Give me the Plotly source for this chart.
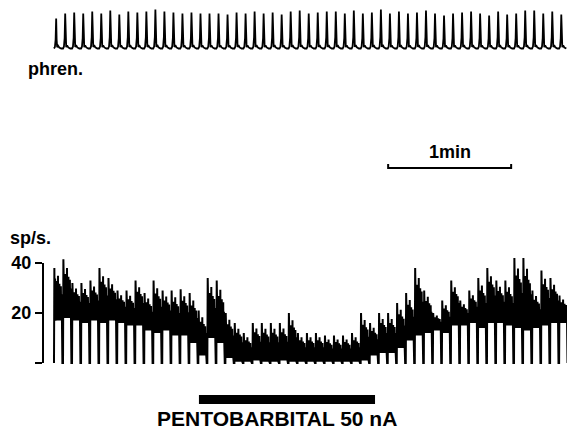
import plotly.graph_objects as go

# ---------------- data ----------------
cycle_period_s = 4.4          # breathing period (s)
scale_bar_start_s = 163.0     # 1-min calibration bar
scale_bar_len_s = 60.0
drug_on_s = 70.7              # pentobarbital ejection
drug_off_s = 156.6

# phrenic burst amplitude for each breath (arbitrary units)
phren_amp = [30, 35, 36, 35, 37, 35, 38, 34, 37, 36,
             37, 39, 37, 36, 35, 36, 35, 35, 35, 34,
             36, 35, 37, 35, 36, 34, 37, 38, 35, 36,
             37, 37, 35, 38, 35, 36, 39, 35, 37, 35,
             36, 38, 35, 33, 35, 36, 37, 35, 33, 37,
             34, 35, 38, 38, 35, 37, 34]

# unit firing rate per breath (sp/s): peak and plateau floor
rate_peak = [38, 41.5, 32, 32, 33, 38, 34, 29, 29, 33,
             28, 33, 29, 29, 29.5, 28, 21, 34, 33, 20,
             16, 12, 16, 16, 16, 16, 20, 12, 12, 12,
             11, 11, 11, 12, 20, 16, 20, 20, 24, 28,
             38, 29, 20, 25, 33, 25, 29, 34, 38, 33,
             33, 42, 42, 29, 37, 34, 27]
rate_floor = [17, 18, 17, 16, 17, 16, 17, 16, 15, 15,
              13, 12, 13, 11, 11, 8, 3, 10, 8, 2,
              0.5, 0.5, 1, 0.5, 0.5, 1, 0.5, 0.5, 0.5, 0.5,
              0.5, 0.5, 0.5, 0.5, 1, 3, 4, 4, 6, 9,
              11, 12, 13, 12, 15, 15, 16, 14, 16, 16,
              15, 14, 13, 14, 15, 16, 16]

rate_ticks = [0, 20, 40]
rate_ticktext = ["", "20", "40"]

# waveform templates within one breath (phase, relative value)
phren_shape = [(0.00, 0.00), (0.10, 0.05), (0.18, 0.30), (0.24, 1.00),
               (0.29, 0.30), (0.35, 0.04), (0.45, 0.09), (0.58, 0.03),
               (0.80, 0.00)]
# None = drop to zero; otherwise fraction between floor and peak
rate_shape = [(0.00, None), (0.04, 1.00), (0.08, 0.05), (0.12, 0.80),
              (0.16, 0.00), (0.20, 0.70), (0.24, 0.05), (0.28, 0.75),
              (0.32, 0.00), (0.36, 0.60), (0.40, 0.10), (0.44, 0.85),
              (0.48, 0.00), (0.52, 0.65), (0.56, 0.05), (0.60, 0.70),
              (0.64, 0.00), (0.68, 0.60), (0.72, 0.05), (0.76, 0.65),
              (0.80, 0.00), (0.84, 0.50), (0.88, 0.00), (0.93, None)]

# ---------------- build traces ----------------
px, py = [], []
for i, a in enumerate(phren_amp):
    t0 = i * cycle_period_s
    for ph, f in phren_shape:
        px.append(t0 + ph * cycle_period_s)
        py.append(a * f)

rx, ry = [], []
for i, (pk, fl) in enumerate(zip(rate_peak, rate_floor)):
    t0 = i * cycle_period_s
    for ph, f in rate_shape:
        rx.append(t0 + ph * cycle_period_s)
        ry.append(0.0 if f is None else fl + f * (pk - fl))

fig = go.Figure()
fig.add_trace(go.Scatter(x=px, y=py, mode="lines", yaxis="y3",
                         line=dict(color="black", width=1.8), hoverinfo="skip"))
fig.add_trace(go.Scatter(x=rx, y=ry, mode="lines", yaxis="y2",
                         line=dict(color="black", width=2.0), hoverinfo="skip"))

W, H = 567, 430
def yp(pix):  # paper fraction from pixel row
    return 1 - pix / H

bold = dict(family="Liberation Sans, Arial, sans-serif", color="black", weight="bold")

fig.update_layout(
    template="none",
    width=W, height=H, margin=dict(l=0, r=0, t=0, b=0, pad=0, autoexpand=False),
    paper_bgcolor="white", plot_bgcolor="rgba(0,0,0,0)", showlegend=False,
    xaxis=dict(domain=[0, 1], range=[-54 / 2.05, (W - 54) / 2.05], visible=False),
    yaxis=dict(domain=[0, 1], range=[0, 1], visible=False),
    yaxis2=dict(domain=[0, 1], range=[-(H - 363) / 2.5, 363 / 2.5],
                overlaying="y", visible=False),
    yaxis3=dict(domain=[0, 1], range=[48.5 - H, 48.5], overlaying="y", visible=False),
    yaxis4=dict(domain=[yp(363), yp(263)], range=[0, 40], anchor="free",
                position=43 / W, showline=True, linecolor="black", linewidth=2,
                ticks="outside", ticklen=7, tickwidth=2, tickcolor="black",
                tickvals=rate_ticks, ticktext=rate_ticktext, showgrid=False,
                zeroline=False, automargin=False, tickfont=dict(size=18, **bold)),
)
fig.add_trace(go.Scatter(x=[None], y=[None], yaxis="y4", showlegend=False))

# scale bar (1 min)
y_sb = yp(168)
x0, x1 = scale_bar_start_s, scale_bar_start_s + scale_bar_len_s
fig.add_shape(type="path", xref="x", yref="paper",
              path=f"M {x0},{yp(164)} L {x0},{y_sb} L {x1},{y_sb} L {x1},{yp(164)}",
              line=dict(color="black", width=2))
fig.add_annotation(x=(x0 + x1) / 2, y=yp(152), xref="x", yref="paper", yanchor="middle",
                   text="1min", showarrow=False, font=dict(size=18, **bold))

# drug bar
fig.add_shape(type="rect", xref="x", yref="paper", x0=drug_on_s, x1=drug_off_s,
              y0=yp(404), y1=yp(395), fillcolor="black", line=dict(width=0))
fig.add_annotation(x=277 / W, y=yp(418), xref="paper", yref="paper", yanchor="middle",
                   text="PENTOBARBITAL 50 nA", showarrow=False,
                   font=dict(size=21, **bold))

fig.add_annotation(x=26 / W, y=yp(69), xref="paper", yref="paper", xanchor="left",
                   yanchor="middle", text="phren.", showarrow=False,
                   font=dict(size=18, **bold))
fig.add_annotation(x=8 / W, y=yp(238), xref="paper", yref="paper", xanchor="left",
                   yanchor="middle", text="sp/s.", showarrow=False,
                   font=dict(size=18, **bold))

fig.write_html("out.html")
